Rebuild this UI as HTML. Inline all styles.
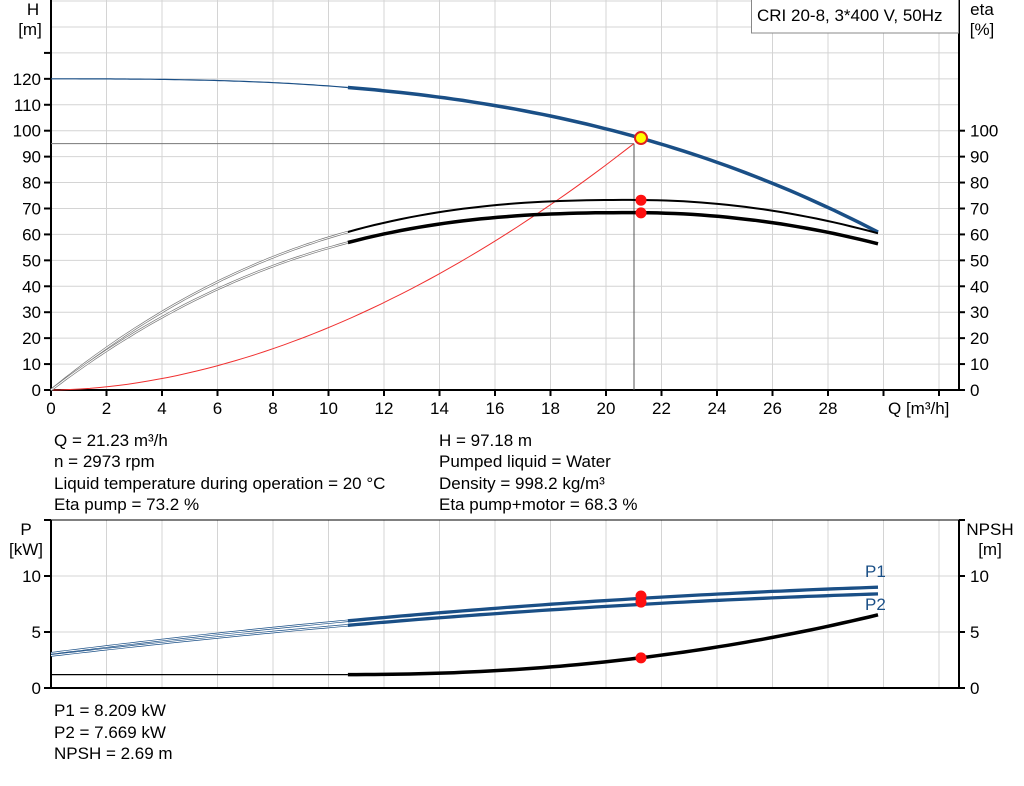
<!DOCTYPE html>
<html><head><meta charset="utf-8"><style>
body{margin:0;background:#fff;}
svg text{font-family:"Liberation Sans",Arial,sans-serif;font-size:17px;fill:#000;}
</style></head><body>
<svg id="s" width="1024" height="781" xmlns="http://www.w3.org/2000/svg">
<g id="grid" stroke="#d4d4d4" stroke-width="1"></g>
<g id="axes"></g>
<g id="curves"></g>
<rect x="751.5" y="-1" width="207" height="34" fill="#fff" stroke="#888"/>
<text x="757" y="21">CRI 20-8, 3*400 V, 50Hz</text>
<text x="33" y="15" text-anchor="middle">H</text>
<text x="30" y="35" text-anchor="middle">[m]</text>
<text x="982" y="15" text-anchor="middle">eta</text>
<text x="982" y="35" text-anchor="middle">[%]</text>
<text x="888" y="414">Q [m³/h]</text>
<text x="54" y="446">Q = 21.23 m³/h</text>
<text x="54" y="467">n = 2973 rpm</text>
<text x="54" y="489">Liquid temperature during operation = 20 °C</text>
<text x="54" y="510">Eta pump = 73.2 %</text>
<text x="439" y="446">H = 97.18 m</text>
<text x="439" y="467">Pumped liquid = Water</text>
<text x="439" y="489">Density = 998.2 kg/m³</text>
<text x="439" y="510">Eta pump+motor = 68.3 %</text>
<text x="26" y="535" text-anchor="middle">P</text>
<text x="26" y="555" text-anchor="middle">[kW]</text>
<text x="990" y="535" text-anchor="middle">NPSH</text>
<text x="990" y="555" text-anchor="middle">[m]</text>
<text x="865" y="577" style="fill:#1a4f86">P1</text>
<text x="865" y="610" style="fill:#1a4f86">P2</text>
<text x="54" y="716">P1 = 8.209 kW</text>
<text x="54" y="738">P2 = 7.669 kW</text>
<text x="54" y="759">NPSH = 2.69 m</text>
</svg>
<script>
var NS="http://www.w3.org/2000/svg";
function el(p,t,a,txt){var e=document.createElementNS(NS,t);for(var k in a)e.setAttribute(k,a[k]);if(txt!==undefined)e.textContent=txt;document.getElementById(p).appendChild(e);return e;}
function X(q){return 51+27.75*q;}
function Y(h){return 390-2.593*h;}
function YB(p){return 688-11.2*p;}
for(var q=2;q<=32;q+=2){el('grid','line',{x1:X(q),y1:0,x2:X(q),y2:390});el('grid','line',{x1:X(q),y1:520,x2:X(q),y2:688});}
for(var h=10;h<=150;h+=10){el('grid','line',{x1:51,y1:Y(h),x2:959,y2:Y(h)});}
for(var p=5;p<=15;p+=5){el('grid','line',{x1:51,y1:YB(p),x2:959,y2:YB(p)});}
var A={stroke:'#000','stroke-width':2};
el('axes','line',Object.assign({x1:51,y1:0,x2:51,y2:391},A));
el('axes','line',Object.assign({x1:959,y1:0,x2:959,y2:391},A));
el('axes','line',Object.assign({x1:50,y1:390,x2:960,y2:390},A));
el('axes','line',Object.assign({x1:51,y1:520,x2:51,y2:689},A));
el('axes','line',Object.assign({x1:959,y1:520,x2:959,y2:689},A));
el('axes','line',Object.assign({x1:50,y1:688,x2:960,y2:688},A));
el('axes','line',{x1:51,y1:520,x2:959,y2:520,stroke:'#000','stroke-width':1});
for(var q=0;q<=32;q+=2){el('axes','line',{x1:X(q),y1:390,x2:X(q),y2:396,stroke:'#000','stroke-width':2});
 if(q<=28)el('axes','text',{x:X(q),y:414,'text-anchor':'middle'},q);}
for(var h=0;h<=130;h+=10){el('axes','line',{x1:44,y1:Y(h),x2:51,y2:Y(h),stroke:'#000','stroke-width':2});
 if(h<=120)el('axes','text',{x:41,y:Y(h)+6,'text-anchor':'end'},h);}
for(var h=0;h<=100;h+=10){el('axes','line',{x1:959,y1:Y(h),x2:965,y2:Y(h),stroke:'#000','stroke-width':2});
 el('axes','text',{x:970,y:Y(h)+6},h);}
for(var p=0;p<=15;p+=5){el('axes','line',{x1:44,y1:YB(p),x2:51,y2:YB(p),stroke:'#000','stroke-width':2});
 el('axes','line',{x1:959,y1:YB(p),x2:965,y2:YB(p),stroke:'#000','stroke-width':2});
 if(p<=10){el('axes','text',{x:41,y:YB(p)+6,'text-anchor':'end'},p);el('axes','text',{x:970,y:YB(p)+6},p);}}
function path(f,a,b,ys){var d='';for(var i=0;i<=60;i++){var q=a+(b-a)*i/60;d+=(i?'L':'M')+X(q).toFixed(1)+','+ys(f(q)).toFixed(1);}return d;}
function draw(f,a,b,ys,st){el('curves','path',Object.assign({d:path(f,a,b,ys),fill:'none'},st));}
var H=function(q){return 120-22.8*Math.pow(q/21.23,2.81);};
function eta(E,qm){return function(q){var u=1-q/qm;var k=u>0?2.5:2;return E*(1-Math.pow(Math.abs(u),k));};}
var e1=eta(73.3,21),e2=eta(68.4,21);
var sys=function(q){return 95*Math.pow(q/21,1.85);};
var P1=function(q){return 3.1+0.312*q-0.00383*q*q;};
var P2=function(q){return 2.9+0.2903*q-0.00355*q*q;};
var NP=function(q){return q<10.7?1.2:1.2+0.00967*Math.pow(q-10.7,2.14);};
var blue='#1a4f86';
el('curves','line',{x1:51,y1:Y(95),x2:634,y2:Y(95),stroke:'#777','stroke-width':1});
el('curves','line',{x1:634,y1:Y(95),x2:634,y2:390,stroke:'#555','stroke-width':1});
draw(sys,0,21,Y,{stroke:'#f03030','stroke-width':1});
draw(H,0,10.7,Y,{stroke:blue,'stroke-width':1.2});
draw(H,10.7,29.8,Y,{stroke:blue,'stroke-width':3.5});
[e1,e2].forEach(function(f,i){
 draw(f,0,10.7,Y,{stroke:'#777','stroke-width':2.4});draw(f,0,10.7,Y,{stroke:'#fff','stroke-width':1});
 draw(f,10.7,29.8,Y,{stroke:'#000','stroke-width':i?3.5:2});});
[P1,P2].forEach(function(f){
 draw(f,0,10.7,YB,{stroke:blue,'stroke-width':2.4});draw(f,0,10.7,YB,{stroke:'#fff','stroke-width':1});
 draw(f,10.7,29.8,YB,{stroke:blue,'stroke-width':3.3});});
draw(NP,0,10.7,YB,{stroke:'#000','stroke-width':1.2});
draw(NP,10.7,29.8,YB,{stroke:'#000','stroke-width':3.5});
el('curves','circle',{cx:641,cy:Y(97.18),r:6,fill:'#ffff00',stroke:'#e02020','stroke-width':2});
[Y(73.2),Y(68.3),YB(8.209),YB(7.669),YB(2.69)].forEach(function(y){el('curves','circle',{cx:641,cy:y,r:5.5,fill:'#ff1010'});});
</script>
</body></html>
